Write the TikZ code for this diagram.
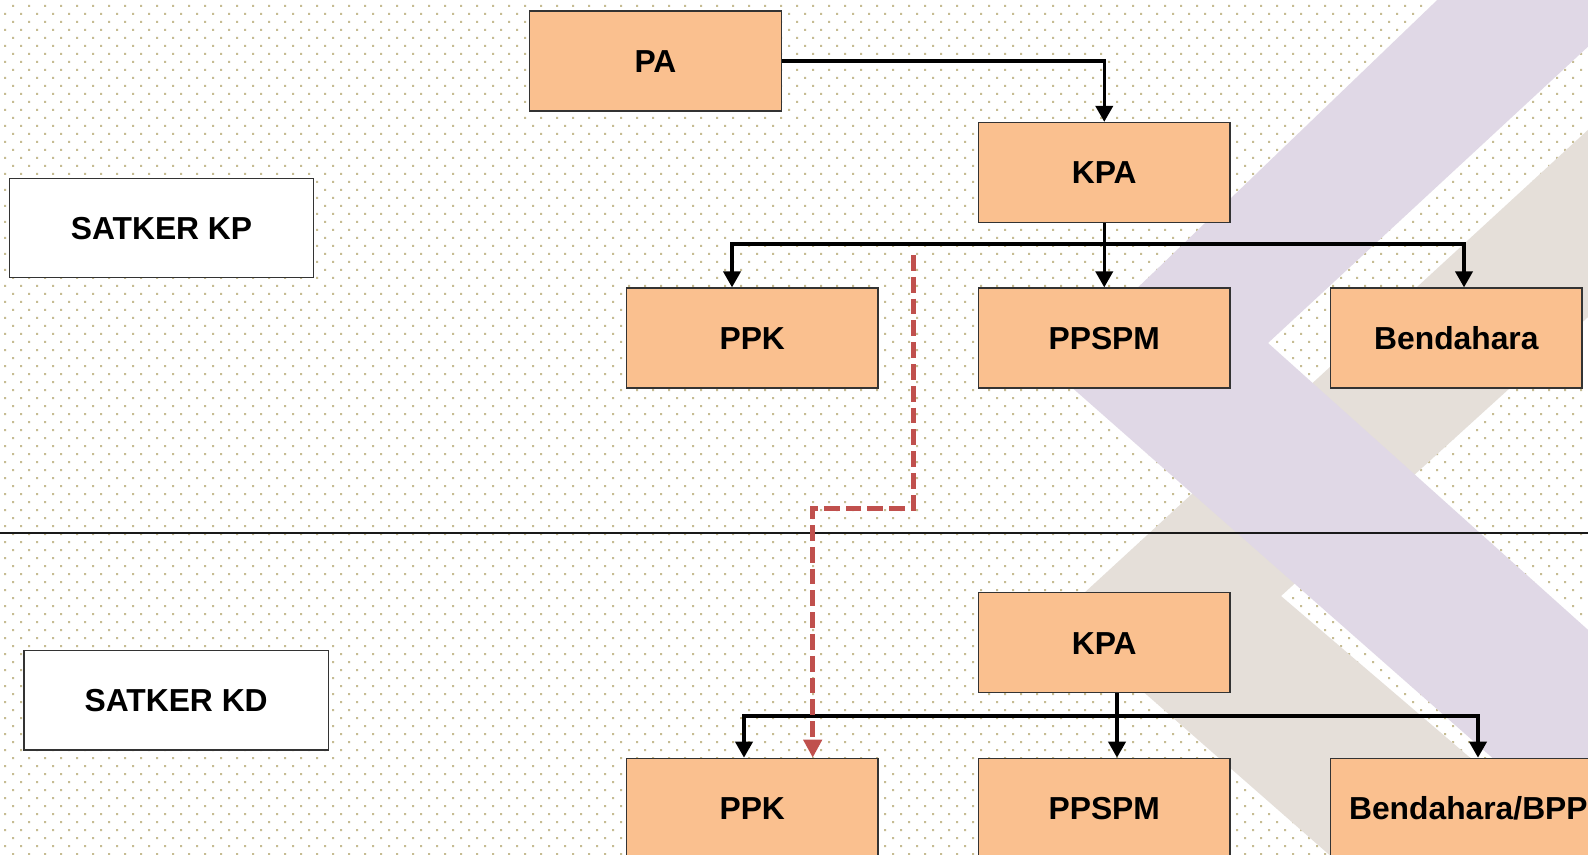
\documentclass[tikz,border=0pt]{standalone}
\usepackage{fontspec}
\setmainfont{Liberation Sans}
\usetikzlibrary{arrows.meta}
\definecolor{boxfill}{RGB}{250,192,143}
\definecolor{dotc}{RGB}{198,188,146}
\definecolor{lav}{RGB}{224,216,230}
\definecolor{beig}{RGB}{229,223,217}
\definecolor{redline}{RGB}{192,80,77}
\tikzset{
  orgbox/.style={draw=black!80, line width=0.65pt, fill=boxfill, minimum width=125.75pt, minimum height=50pt, inner sep=0pt, font=\fontsize{15.9}{18}\selectfont\bfseries, text height=11.4pt, text depth=0pt},
  satbox/.style={orgbox, fill=white, minimum width=152.2pt, minimum height=49.6pt},
  conn/.style={line width=1.7pt, -{Triangle[width=8.6pt,length=8pt]}},
  redconn/.style={line width=2.3pt, draw=redline, dash pattern=on 7.9pt off 3pt, -{Triangle[width=9pt,length=9pt]}},
  sepline/.style={line width=1pt, draw=black!90},
}
\begin{document}
\begin{tikzpicture}[x=0.5pt,y=-0.5pt]
\useasboundingbox (0,0) rectangle (1588,855);
\fill[white] (0,0) rectangle (1588,855);
% dotted background
\foreach \m in {0,...,53}{
  \fill[dotc] \foreach \i in {0,...,99}{(16*\i+12,16*\m+5) rectangle ++(2,2) (16*\i+4,16*\m+13) rectangle ++(2,2)};
}
% background logo
\begin{scope}
\clip (0,0) rectangle (1588,855);
\fill[beig] (1751,-20) -- (1058,617) -- (1358,880) -- (1613,880) -- (1281,596) -- (1959,-20) -- cycle;
\fill[lav] (1458,-20) -- (1052,370) -- (1631,880) -- (1867,880) -- (1268,343) -- (1660,-20) -- cycle;
\end{scope}
% separator
\draw[sepline] (0,533) -- (1588,533);
% nodes
\node[orgbox] (PA) at (655.5,61) {PA};
\node[orgbox] (KPA1) at (1104.25,172.5) {KPA};
\node[orgbox] (PPK1) at (752.25,338) {PPK};
\node[orgbox] (PPSPM1) at (1104.25,338) {PPSPM};
\node[orgbox] (BEN1) at (1456.35,338) {Bendahara};
\node[satbox] (SKP) at (161.5,228) {SATKER KP};
\node[orgbox] (KPA2) at (1104.25,642.7) {KPA};
\node[orgbox] (PPK2) at (752.25,808.3) {PPK};
\node[orgbox] (PPSPM2) at (1104.25,808.3) {PPSPM};
\node[orgbox, minimum width=137.7pt] (BEN2) at (1468.35,808.3) {Bendahara/BPP};
\node[satbox] (SKD) at (176.15,700.25) {SATKER KD};
% upper connectors
\coordinate (b1L) at (732,244);
\coordinate (b1R) at (1464,244);
\draw[conn] (PA.east) -| (KPA1.north);
\draw[conn] (KPA1.south) -- (PPSPM1.north);
\draw[conn] (KPA1.south) |- (b1L) -- (b1L |- PPK1.north);
\draw[conn] (KPA1.south) |- (b1R) -- (b1R |- BEN1.north);
% lower connectors
\coordinate (b2L) at (744,716);
\coordinate (b2M) at (1117,716);
\coordinate (b2R) at (1478,716);
\draw[conn] (KPA2.south -| b2M) -- (b2M |- PPSPM2.north);
\draw[conn] (b2M) -| (b2L |- PPK2.north);
\draw[conn] (b2M) -| (b2R |- BEN2.north);
% red dashed connector
\coordinate (r0) at (913.3,255);
\coordinate (rc) at (812.7,508.3);
\draw[redconn] (r0) |- (rc) -- (rc |- PPK2.north);
\end{tikzpicture}
\end{document}
